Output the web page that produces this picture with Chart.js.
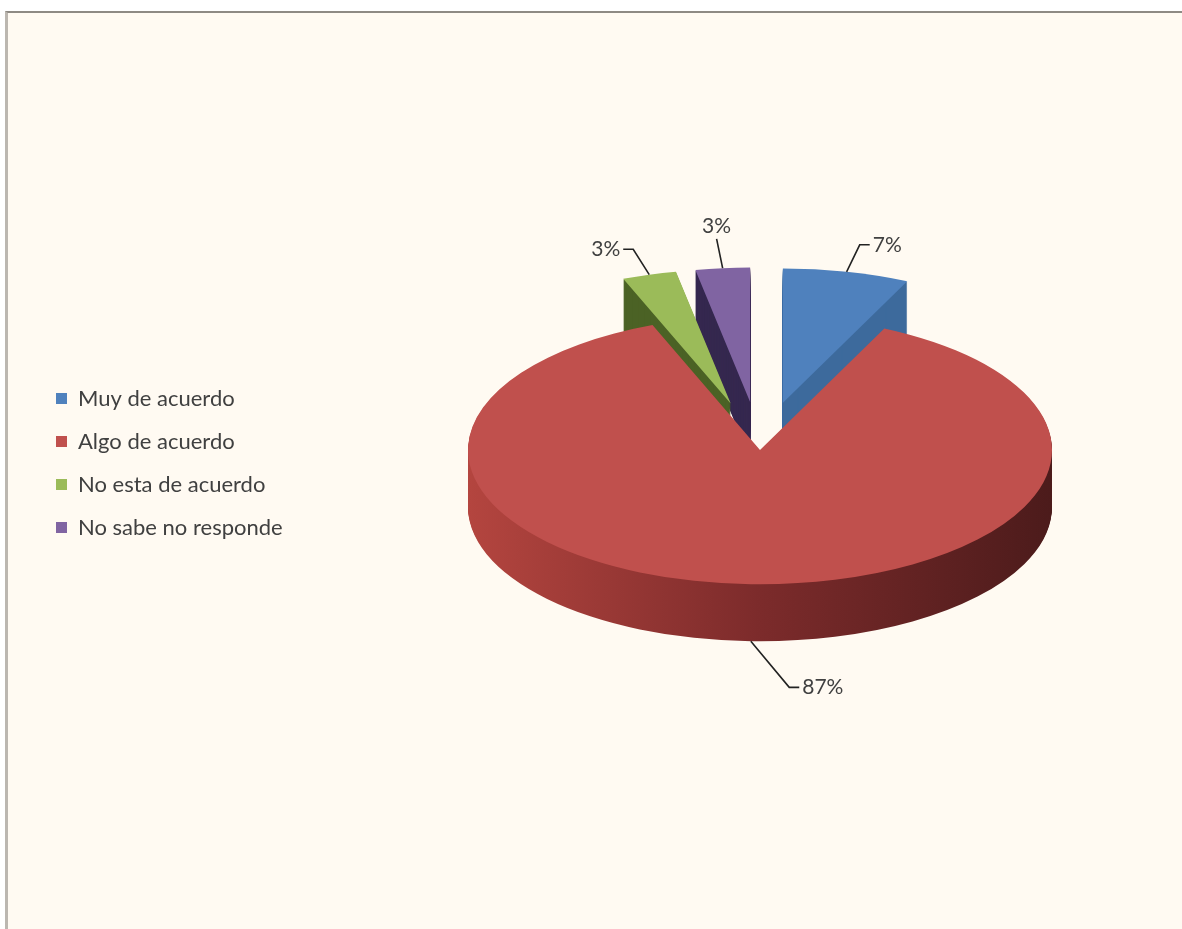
<!DOCTYPE html>
<html>
<head>
<meta charset="utf-8">
<script src="https://cdn.jsdelivr.net/npm/chart.js@4.4.1/dist/chart.umd.min.js"></script>
<style>
  html, body { margin: 0; padding: 0; background: #ffffff; overflow: hidden; }
  #frame {
    position: absolute; left: 5px; top: 11px;
    width: 1177px; height: 918px; box-sizing: border-box;
    border-top: 2px solid #8e8a84; border-left: 3px solid #bcb7b0;
    background: #fffaf2; overflow: hidden;
  }
</style>
</head>
<body>
<div id="frame"><canvas id="myChart" width="1174" height="916"></canvas></div>
<script>
const ctx = document.getElementById('myChart');

// data
const categories = ['Muy de acuerdo', 'Algo de acuerdo', 'No esta de acuerdo', 'No sabe no responde'];
const percentages = [7, 87, 3, 3];

// styling
const topColors = ['#4f81bd', '#c0504d', '#9bbb59', '#8064a2'];
const sideColors = ['#3d6a9c', null, '#4b6225', '#35284f'];
const explode = [105, 0, 105, 105];
const RADIUS = 292;
const TILT = 0.46;
const DEPTH = 57;
const PIE_X = 752, PIE_Y = 437;
const LEAD = 30;
const textColor = '#404040';

function tilt(c, cx, cy) {
  c.translate(PIE_X, PIE_Y);
  c.scale(1, TILT);
  c.translate(-cx, -cy);
}

function drawSlice(c, arc, i, color) {
  const mid = (arc.startAngle + arc.endAngle) / 2;
  c.save();
  c.translate(Math.cos(mid) * explode[i], Math.sin(mid) * explode[i]);
  const ghost = Object.assign(Object.create(Object.getPrototypeOf(arc)), arc, {
    options: Object.assign({}, arc.options, {backgroundColor: color, borderWidth: 0})
  });
  ghost.draw(c);
  c.restore();
}

const pie3d = {
  id: 'pie3d',
  beforeDatasetDraw(chart, args) {
    const c = chart.ctx;
    const arcs = args.meta.data;
    const cx = arcs[0].x, cy = arcs[0].y;
    const redSide = c.createLinearGradient(cx - RADIUS, 0, cx + RADIUS, 0);
    redSide.addColorStop(0, '#b4453f');
    redSide.addColorStop(0.5, '#7c2b2b');
    redSide.addColorStop(1, '#4c1b1b');
    // walls: stacked copies going down
    for (let d = DEPTH; d > 0; d--) {
      c.save();
      c.translate(0, d);
      tilt(c, cx, cy);
      arcs.forEach((arc, i) => drawSlice(c, arc, i, sideColors[i] || redSide));
      c.restore();
    }
    // top faces
    c.save();
    tilt(c, cx, cy);
    arcs.forEach((arc, i) => drawSlice(c, arc, i, topColors[i]));
    c.restore();
    return false;
  },
  afterDatasetsDraw(chart) {
    const c = chart.ctx;
    const meta = chart.getDatasetMeta(0);
    const arcs = meta.data;
    const cx = arcs[0].x, cy = arcs[0].y;
    const total = percentages.reduce((a, b) => a + b, 0);
    c.save();
    c.font = '21px Lato';
    c.fillStyle = textColor;
    c.strokeStyle = '#222222';
    c.lineWidth = 1.6;
    arcs.forEach((arc, i) => {
      const mid = (arc.startAngle + arc.endAngle) / 2;
      const ux = Math.cos(mid), uy = Math.sin(mid);
      const px = cx + ux * (explode[i] + arc.outerRadius);
      const py = cy + uy * (explode[i] + arc.outerRadius);
      const ax = PIE_X + (px - cx);
      let ay = PIE_Y + (py - cy) * TILT;
      if (uy > 0) ay += DEPTH;
      let dx = ux, dy = uy * TILT;
      let len = Math.hypot(dx, dy);
      dx /= len; dy /= len;
      const text = Math.round(percentages[i] / total * 100) + '%';
      const side = dx >= -0.25 ? 1 : -1;
      let lead = LEAD;
      if (uy > 0) {
        // front labels lean to the side they are written on
        dx += side * 0.9;
        len = Math.hypot(dx, dy);
        dx /= len; dy /= len;
        lead = LEAD * 2;
      }
      const ex = ax + dx * lead, ey = ay + dy * lead;
      c.beginPath();
      c.moveTo(ax, ay);
      c.lineTo(ex, ey);
      if (Math.abs(dx) < 0.25 && dy < 0) {
        c.stroke();
        c.textAlign = 'center';
        c.textBaseline = 'bottom';
        c.fillText(text, ex, ey - 2);
      } else {
        c.lineTo(ex + side * 10, ey);
        c.stroke();
        c.textAlign = side > 0 ? 'left' : 'right';
        c.textBaseline = 'middle';
        c.fillText(text, ex + side * 13, ey);
      }
    });
    c.restore();
  }
};

new Chart(ctx, {
  type: 'pie',
  data: {
    labels: categories,
    datasets: [{
      data: percentages,
      backgroundColor: topColors,
      borderWidth: 0,
      radius: RADIUS
    }]
  },
  options: {
    responsive: false,
    animation: false,
    events: [],
    layout: { padding: { left: 27, top: 0, right: 0, bottom: 16 } },
    plugins: {
      tooltip: { enabled: false },
      legend: {
        position: 'left',
        labels: {
          font: { family: 'Lato', size: 22 },
          color: textColor,
          boxWidth: 11,
          boxHeight: 11,
          padding: 21
        }
      }
    }
  },
  plugins: [pie3d]
});
</script>
</body>
</html>
